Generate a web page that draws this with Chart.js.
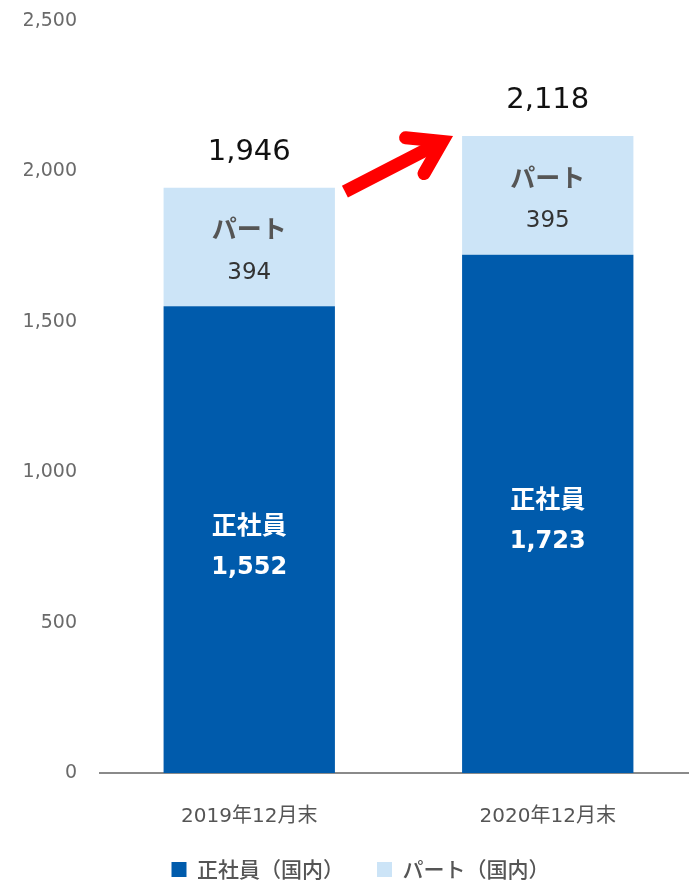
<!DOCTYPE html>
<html><head><meta charset="utf-8">
<script src="https://cdn.jsdelivr.net/npm/chart.js@4.4.1/dist/chart.umd.min.js"></script>
<style>
html,body{margin:0;padding:0;background:#fff;overflow:hidden;}
#wrap{width:689px;height:881px;overflow:hidden;position:relative;}
canvas{display:block;}
</style></head>
<body><div id="wrap"><canvas id="c" width="697" height="890"></canvas></div>
<script>
const categories = ['2019年12月末', '2020年12月末'];
const seriesNames = ['正社員（国内）', 'パート（国内）'];
const segmentLabels = ['正社員', 'パート'];
const regularValues = [1552, 1723];
const partValues = [394, 395];
const totalValues = [1946, 2118];
const yTicks = [0, 500, 1000, 1500, 2000, 2500];

const fmt = v => v.toLocaleString('en-US');
const NUM = '"DejaVu Sans"';
const JP = '"Noto Sans CJK JP"';

const labelPlugin = {
  id: 'barLabels',
  afterDatasetsDraw(chart) {
    const ctx = chart.ctx;
    const m0 = chart.getDatasetMeta(0), m1 = chart.getDatasetMeta(1);
    const y = chart.scales.y;
    ctx.save();
    ctx.textAlign = 'center';
    ctx.textBaseline = 'middle';
    categories.forEach((c, i) => {
      const b0 = m0.data[i], b1 = m1.data[i];
      const c0 = (b0.y + b0.base) / 2, c1 = (b1.y + b1.base) / 2;
      ctx.fillStyle = '#ffffff';
      ctx.font = 'bold 25px ' + JP;
      ctx.fillText(segmentLabels[0], b0.x, c0 - 15);
      ctx.font = 'bold 24px ' + NUM;
      ctx.fillText(fmt(regularValues[i]), b0.x, c0 + 28);
      ctx.fillStyle = '#555555';
      ctx.font = 'bold 25px ' + JP;
      ctx.fillText(segmentLabels[1], b1.x, c1 - 18);
      ctx.fillStyle = '#333333';
      ctx.font = '23px ' + NUM;
      ctx.fillText(fmt(partValues[i]), b1.x, c1 + 26);
      ctx.fillStyle = '#111111';
      ctx.font = '29px ' + NUM;
      ctx.fillText(fmt(totalValues[i]), b1.x, y.getPixelForValue(totalValues[i]) - 35);
    });
    // growth arrow between the two totals
    const r0 = m1.data[0], r1 = m1.data[1];
    const sx = r0.x + r0.width / 2 + 10, sy = y.getPixelForValue(totalValues[0]) + 4;
    const tx = r1.x - r1.width / 2 - 9, ty = y.getPixelForValue(totalValues[1]);
    const dx = tx - sx, dy = ty - sy, L = Math.hypot(dx, dy), ux = dx / L, uy = dy / L;
    const vx = tx - ux * 12, vy = ty - uy * 12;
    ctx.strokeStyle = '#ff0000';
    ctx.lineWidth = 13;
    ctx.lineCap = 'butt';
    ctx.beginPath(); ctx.moveTo(sx, sy); ctx.lineTo(vx, vy); ctx.stroke();
    const ang = Math.atan2(-uy, -ux), a = 33 * Math.PI / 180, al = 37;
    ctx.lineCap = 'round'; ctx.lineJoin = 'miter'; ctx.miterLimit = 10;
    ctx.beginPath();
    ctx.moveTo(vx + al * Math.cos(ang + a), vy + al * Math.sin(ang + a));
    ctx.lineTo(vx, vy);
    ctx.lineTo(vx + al * Math.cos(ang - a), vy + al * Math.sin(ang - a));
    ctx.stroke();
    ctx.restore();
  }
};

new Chart(document.getElementById('c'), {
  type: 'bar',
  data: {
    labels: categories,
    datasets: [
      { label: seriesNames[0], data: regularValues, backgroundColor: '#005BAC', borderWidth: 0 },
      { label: seriesNames[1], data: partValues, backgroundColor: '#CCE4F7', borderWidth: 0 }
    ]
  },
  plugins: [labelPlugin],
  options: {
    responsive: false,
    animation: false,
    datasets: { bar: { categoryPercentage: 1, barPercentage: 0.574 } },
    layout: { padding: { top: 21, left: 24, right: 0, bottom: 0 } },
    plugins: {
      legend: {
        position: 'bottom',
        labels: {
          boxWidth: 15, boxHeight: 15, padding: 33, color: '#555555',
          font: { family: JP, size: 21, weight: '500' }
        }
      },
      tooltip: { enabled: false }
    },
    scales: {
      x: {
        stacked: true,
        grid: { display: false, drawTicks: false },
        border: { display: true, color: '#8a8a8a', width: 2 },
        ticks: { padding: 32, color: '#555555', font: { family: NUM + ', ' + JP, size: 20 } },
        afterFit(s) { s.height = 53; }
      },
      y: {
        stacked: true, min: 0, max: 2500,
        grid: { display: false, drawTicks: false },
        border: { display: false },
        afterBuildTicks(s) { s.ticks = yTicks.map(v => ({ value: v })); },
        ticks: { padding: 23, color: '#6a6a6a', font: { family: NUM, size: 19 }, callback: v => fmt(v) },
        afterFit(s) { s.width = 76; s.paddingTop = 0; s.paddingBottom = 0; }
      }
    }
  }
});
</script>
</body></html>
